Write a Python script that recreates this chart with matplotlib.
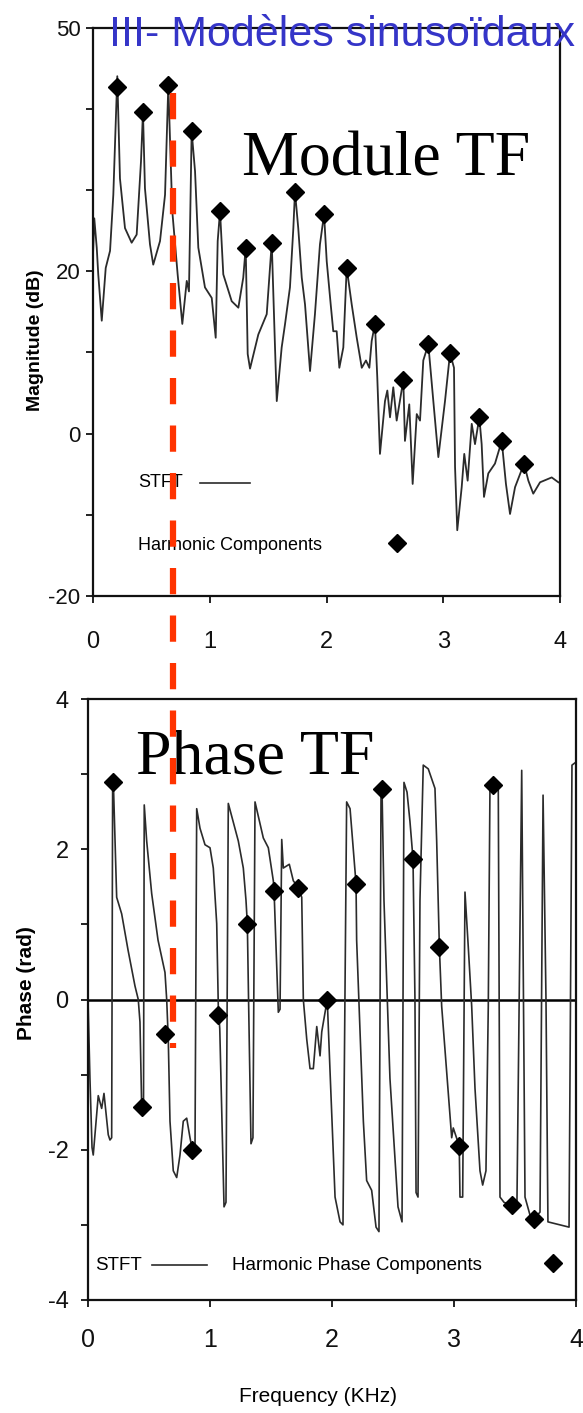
import matplotlib
matplotlib.use("Agg")
import matplotlib.pyplot as plt
from matplotlib.lines import Line2D

# --- magnitude spectrum (STFT) ---
mag_freq = [0.000, 0.011, 0.032, 0.045, 0.075, 0.109, 0.146, 0.174, 0.208, 0.231,
            0.274, 0.331, 0.374, 0.411, 0.428, 0.445, 0.488, 0.516, 0.574, 0.617,
            0.645, 0.679, 0.725, 0.765, 0.803, 0.822, 0.845, 0.874, 0.902, 0.959,
            1.017, 1.051, 1.068, 1.088, 1.116, 1.188, 1.245, 1.287, 1.308, 1.325,
            1.345, 1.416, 1.488, 1.531, 1.559, 1.574, 1.616, 1.645, 1.687, 1.716,
            1.730, 1.758, 1.788, 1.816, 1.859, 1.901, 1.944, 1.979, 2.002, 2.036,
            2.058, 2.087, 2.110, 2.144, 2.173, 2.216, 2.259, 2.302, 2.338, 2.367,
            2.387, 2.415, 2.435, 2.458, 2.501, 2.521, 2.544, 2.572, 2.601, 2.658,
            2.672, 2.709, 2.738, 2.773, 2.801, 2.829, 2.872, 2.915, 2.958, 3.015,
            3.058, 3.092, 3.101, 3.120, 3.158, 3.180, 3.209, 3.244, 3.272, 3.309,
            3.329, 3.349, 3.386, 3.443, 3.501, 3.537, 3.572, 3.615, 3.692, 3.729,
            3.771, 3.829, 3.929, 3.986]
mag_db = [22.0, 26.5, 22.9, 19.6, 13.9, 20.4, 22.5, 29.4, 44.0, 31.4,
          25.3, 23.5, 24.5, 33.5, 39.6, 30.2, 23.3, 20.8, 23.7, 29.4,
          42.9, 27.4, 19.6, 13.5, 18.8, 17.5, 37.2, 32.3, 22.9, 18.0,
          16.7, 11.8, 23.7, 27.4, 19.6, 16.3, 15.5, 19.2, 22.9, 9.8,
          8.0, 12.2, 14.7, 23.5, 10.6, 4.0, 10.6, 13.5, 18.0, 25.3,
          29.8, 25.3, 19.2, 15.9, 7.7, 14.7, 23.3, 27.0, 21.2, 15.9,
          12.6, 12.6, 8.1, 10.6, 20.4, 15.9, 11.8, 8.1, 9.0, 8.1,
          11.4, 13.5, 6.9, -2.5, 4.0, 5.3, 2.0, 5.7, 1.6, 6.6,
          -0.9, 3.6, -6.2, 2.4, 1.6, 9.0, 11.0, 4.0, -2.9, 4.0,
          9.9, 8.1, -4.1, -11.9, -6.6, -2.5, -5.8, 1.2, -1.3, 2.0,
          -1.3, -7.8, -4.9, -3.7, -0.9, -6.2, -9.9, -6.6, -3.7, -5.8,
          -7.4, -6.0, -5.4, -6.0]

harm_freq = [0.208, 0.428, 0.645, 0.845, 1.088, 1.308, 1.531, 1.730, 1.979,
             2.173, 2.415, 2.658, 2.872, 3.058, 3.309, 3.501, 3.692]
harm_db = [42.7, 39.6, 42.9, 37.2, 27.4, 22.9, 23.5, 29.8, 27.0,
           20.4, 13.5, 6.6, 11.0, 9.9, 2.0, -0.9, -3.7]

# --- phase spectrum ---
phase_freq = [0.000, 0.016, 0.033, 0.043, 0.084, 0.112, 0.131, 0.166, 0.180, 0.194,
              0.202, 0.207, 0.235, 0.276, 0.328, 0.385, 0.412, 0.426, 0.440, 0.455,
              0.461, 0.481, 0.522, 0.574, 0.631, 0.645, 0.658, 0.672, 0.699, 0.727,
              0.754, 0.781, 0.809, 0.836, 0.855, 0.877, 0.891, 0.918, 0.959, 1.000,
              1.027, 1.055, 1.068, 1.080, 1.115, 1.131, 1.150, 1.232, 1.273, 1.295,
              1.306, 1.316, 1.336, 1.352, 1.369, 1.437, 1.478, 1.519, 1.525, 1.560,
              1.574, 1.588, 1.601, 1.650, 1.683, 1.724, 1.752, 1.765, 1.793, 1.820,
              1.847, 1.875, 1.902, 1.916, 1.961, 1.984, 2.025, 2.066, 2.090, 2.120,
              2.148, 2.197, 2.202, 2.257, 2.284, 2.325, 2.361, 2.385, 2.402, 2.410,
              2.426, 2.475, 2.541, 2.574, 2.590, 2.615, 2.639, 2.664, 2.680, 2.689,
              2.705, 2.721, 2.748, 2.789, 2.844, 2.858, 2.880, 2.899, 2.940, 2.981,
              2.994, 3.043, 3.049, 3.071, 3.090, 3.117, 3.145, 3.172, 3.213, 3.235,
              3.262, 3.281, 3.295, 3.317, 3.363, 3.377, 3.410, 3.475, 3.516, 3.555,
              3.582, 3.623, 3.656, 3.705, 3.730, 3.754, 3.770, 3.943, 3.967, 4.000]
phase_rad = [0.00, -1.05, -1.97, -2.07, -1.28, -1.45, -1.25, -1.80, -1.87, -1.84,
             2.89, 2.94, 1.36, 1.14, 0.66, 0.18, 0.00, -0.30, -1.43, -1.43,
             2.59, 2.11, 1.41, 0.79, 0.36, 0.00, -0.53, -1.62, -2.28, -2.37,
             -2.07, -1.62, -1.58, -1.84, -2.00, -2.01, 2.54, 2.28, 2.06, 2.02,
             1.75, 1.01, -0.09, -0.39, -2.76, -2.70, 2.61, 2.11, 1.75, 1.32,
             1.01, 0.00, -1.92, -1.84, 2.63, 2.15, 2.02, 1.58, 1.45, -0.17,
             -0.13, 2.13, 1.75, 1.80, 1.58, 1.49, 1.36, 0.00, -0.53, -0.92,
             -0.92, -0.36, -0.75, -0.43, 0.00, -0.96, -2.63, -2.96, -3.00, 2.63,
             2.54, 1.54, 0.79, -1.62, -2.41, -2.54, -3.03, -3.09, 2.76, 2.80,
             1.32, -1.05, -2.76, -2.96, 2.89, 2.76, 2.37, 1.87, 0.00, -2.57,
             -2.63, 1.32, 3.12, 3.07, 2.81, 2.11, 0.70, -0.09, -0.96, -1.84,
             -1.71, -1.95, -2.63, -2.63, 1.43, 0.70, -0.09, -1.18, -2.28, -2.47,
             -2.28, -0.09, 2.86, 2.86, 2.79, -2.63, -2.70, -2.74, -2.70, 3.05,
             -2.63, -2.87, -2.92, -2.83, 2.72, 0.00, -2.96, -3.03, 3.12, 3.16]

hp_freq = [0.202, 0.440, 0.631, 0.855, 1.068, 1.306, 1.525, 1.724, 1.961,
           2.197, 2.410, 2.664, 2.880, 3.043, 3.317, 3.475, 3.656]
hp_rad = [2.89, -1.43, -0.46, -2.00, -0.20, 1.01, 1.45, 1.49, 0.00,
          1.54, 2.80, 1.87, 0.70, -1.95, 2.86, -2.74, -2.92]

W, H = 583, 1413
SANS = "Liberation Sans"
CURVE = "#2b2b2b"


def fx(px):
    return px / W


def fy(py):
    return 1 - py / H


fig = plt.figure(figsize=(W / 100, H / 100), dpi=100)
fig.patch.set_facecolor("white")

ax1 = fig.add_axes([fx(93), fy(596), fx(560) - fx(93), fy(27.5) - fy(596)])
ax2 = fig.add_axes([fx(88), fy(1300), fx(576) - fx(88), fy(699) - fy(1300)])

for ax in (ax1, ax2):
    for sp in ax.spines.values():
        sp.set_linewidth(1.6)
        sp.set_color("#111111")
    ax.tick_params(direction="out", length=5, width=1.3, colors="#111111")
    ax.set_xlim(0, 4)
    ax.set_xticks([0, 1, 2, 3, 4])

# top: magnitude
ax1.plot(mag_freq, mag_db, color=CURVE, lw=1.3)
ax1.plot(harm_freq, harm_db, "D", color="black", ms=9)
ax1.set_ylim(-20, 50)
ax1.set_yticks(range(-20, 51, 10))
ax1.set_yticklabels(["-20", "", "0", "", "20", "", "", "50"], family=SANS, fontsize=16)
ax1.set_xticklabels(["0", "1", "2", "3", "4"], family=SANS, fontsize=17)
ax1.tick_params(axis="x", pad=20)
ax1.tick_params(axis="y", pad=4)

ax1.text(0.096, 0.2005, "STFT", transform=ax1.transAxes, family=SANS,
         fontsize=13, va="center")
ax1.plot([0.229, 0.336], [0.199, 0.199], transform=ax1.transAxes, color=CURVE, lw=1.2)
ax1.text(0.096, 0.0897, "Harmonic Components", transform=ax1.transAxes,
         family=SANS, fontsize=13, va="center")
ax1.plot([0.651], [0.0932], "D", transform=ax1.transAxes, color="black", ms=9)

# bottom: phase
ax2.axhline(0, color="black", lw=1.8)
ax2.plot(phase_freq, phase_rad, color=CURVE, lw=1.2)
ax2.plot(hp_freq, hp_rad, "D", color="black", ms=9)
ax2.set_ylim(-4, 4)
ax2.set_yticks(range(-4, 5))
ax2.set_yticklabels(["-4", "", "-2", "", "0", "", "2", "", "4"], family=SANS, fontsize=17)
ax2.set_xticklabels(["0", "1", "2", "3", "4"], family=SANS, fontsize=18)
ax2.tick_params(axis="x", pad=15)
ax2.tick_params(axis="y", pad=9)

ax2.text(0.0143, 0.0582, "STFT", transform=ax2.transAxes, family=SANS,
         fontsize=13.5, va="center")
ax2.plot([0.131, 0.244], [0.0582, 0.0582], transform=ax2.transAxes, color=CURVE, lw=1.2)
ax2.text(0.295, 0.0582, "Harmonic Phase Components", transform=ax2.transAxes,
         family=SANS, fontsize=13.5, va="center")
ax2.plot([0.953], [0.0616], "D", transform=ax2.transAxes, color="black", ms=9)

# axis titles
fig.text(fx(36), fy(340), "Magnitude (dB)", rotation=90, ha="center", va="center",
         family=SANS, fontsize=14, fontweight="bold")
fig.text(fx(26), fy(983), "Phase (rad)", rotation=90, ha="center", va="center",
         family=SANS, fontsize=15, fontweight="bold")
fig.text(fx(318), fy(1396), "Frequency (KHz)", ha="center", va="center",
         family=SANS, fontsize=15)

# slide overlays
fig.text(fx(575), fy(46), "III- Modèles sinusoïdaux", ha="right", va="baseline",
         family=SANS, fontsize=31, color="#3535c8")
fig.text(fx(242), fy(176), "Module TF", ha="left", va="baseline",
         family="Liberation Serif", fontsize=46, color="black")
fig.text(fx(136), fy(773), "Phase TF", ha="left", va="baseline",
         family="Liberation Serif", fontsize=46, color="black")

fig.add_artist(Line2D([fx(172.5), fx(172.5)], [fy(93), fy(1048)],
                      transform=fig.transFigure, color="#ff3300", lw=4.5,
                      dashes=(4.2, 3.4), solid_capstyle="butt", zorder=10))

fig.savefig("out.png", dpi=100)
